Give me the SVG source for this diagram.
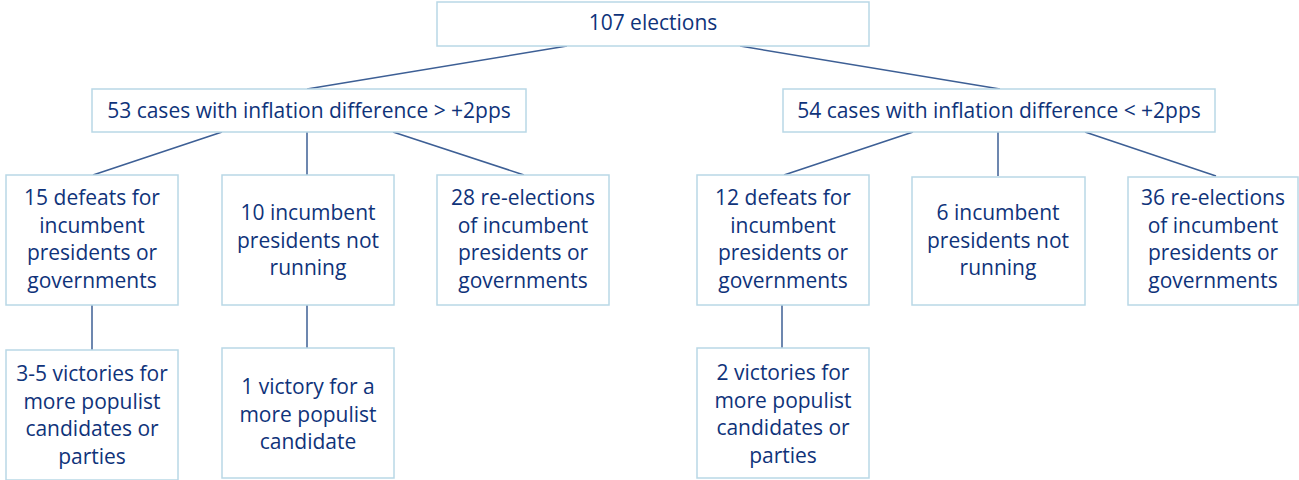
<svg xmlns="http://www.w3.org/2000/svg" width="1299" height="480" viewBox="0 0 1299 480">
  <style>
    .box { fill: #ffffff; stroke: #b9d8e6; stroke-width: 1.5; }
    .lbl { font-family: "Open Sans", "Liberation Sans", sans-serif; font-size: 21px; fill: #0f337a; text-anchor: middle; }
    .edge { stroke: #3d5f95; stroke-width: 1.5; fill: none; }
  </style>
  <rect width="1299" height="480" fill="#ffffff"/>

  <g id="connectors">
    <line class="edge" x1="567" y1="46" x2="307" y2="89"/>
    <line class="edge" x1="740" y1="46" x2="1000" y2="89"/>
    <line class="edge" x1="222" y1="132" x2="93" y2="175"/>
    <line class="edge" x1="307" y1="132" x2="307" y2="175"/>
    <line class="edge" x1="393" y1="132" x2="524" y2="175"/>
    <line class="edge" x1="913" y1="132" x2="784" y2="175"/>
    <line class="edge" x1="998" y1="132" x2="998" y2="176"/>
    <line class="edge" x1="1085" y1="132" x2="1216" y2="176"/>
    <line class="edge" x1="92" y1="305" x2="92" y2="350"/>
    <line class="edge" x1="307" y1="305" x2="307" y2="348"/>
    <line class="edge" x1="782" y1="305" x2="782" y2="348"/>
  </g>

  <g id="n-total">
    <rect class="box" x="437" y="2" width="432" height="44"/>
    <text class="lbl" x="653" y="30">107 elections</text>
  </g>

  <g id="n-high">
    <rect class="box" x="92" y="89" width="434" height="43"/>
    <text class="lbl" x="309" y="118">53 cases with inflation difference &gt; +2pps</text>
  </g>

  <g id="n-low">
    <rect class="box" x="783" y="89" width="432" height="43"/>
    <text class="lbl" x="999" y="118">54 cases with inflation difference &lt; +2pps</text>
  </g>

  <g id="n-high-defeats">
    <rect class="box" x="6" y="175" width="172" height="130"/>
    <text class="lbl" x="92" y="205">15 defeats for<tspan x="92" dy="27.5">incumbent</tspan><tspan x="92" dy="27.5">presidents or</tspan><tspan x="92" dy="27.5">governments</tspan></text>
  </g>

  <g id="n-high-notrunning">
    <rect class="box" x="222" y="175" width="172" height="130"/>
    <text class="lbl" x="308" y="220">10 incumbent<tspan x="308" dy="27.5">presidents not</tspan><tspan x="308" dy="27.5">running</tspan></text>
  </g>

  <g id="n-high-reelected">
    <rect class="box" x="437" y="175" width="172" height="130"/>
    <text class="lbl" x="523" y="205">28 re-elections<tspan x="523" dy="27.5">of incumbent</tspan><tspan x="523" dy="27.5">presidents or</tspan><tspan x="523" dy="27.5">governments</tspan></text>
  </g>

  <g id="n-low-defeats">
    <rect class="box" x="697" y="175" width="172" height="130"/>
    <text class="lbl" x="783" y="205">12 defeats for<tspan x="783" dy="27.5">incumbent</tspan><tspan x="783" dy="27.5">presidents or</tspan><tspan x="783" dy="27.5">governments</tspan></text>
  </g>

  <g id="n-low-notrunning">
    <rect class="box" x="912" y="177" width="173" height="128"/>
    <text class="lbl" x="998" y="220">6 incumbent<tspan x="998" dy="27.5">presidents not</tspan><tspan x="998" dy="27.5">running</tspan></text>
  </g>

  <g id="n-low-reelected">
    <rect class="box" x="1128" y="177" width="170" height="128"/>
    <text class="lbl" x="1213" y="205">36 re-elections<tspan x="1213" dy="27.5">of incumbent</tspan><tspan x="1213" dy="27.5">presidents or</tspan><tspan x="1213" dy="27.5">governments</tspan></text>
  </g>

  <g id="n-high-populist">
    <rect class="box" x="6" y="350" width="172" height="130"/>
    <text class="lbl" x="92" y="381">3-5 victories for<tspan x="92" dy="27.5">more populist</tspan><tspan x="92" dy="27.5">candidates or</tspan><tspan x="92" dy="27.5">parties</tspan></text>
  </g>

  <g id="n-high-populist1">
    <rect class="box" x="222" y="348" width="172" height="130"/>
    <text class="lbl" x="308" y="394">1 victory for a<tspan x="308" dy="27.5">more populist</tspan><tspan x="308" dy="27.5">candidate</tspan></text>
  </g>

  <g id="n-low-populist">
    <rect class="box" x="697" y="348" width="172" height="130"/>
    <text class="lbl" x="783" y="380">2 victories for<tspan x="783" dy="27.5">more populist</tspan><tspan x="783" dy="27.5">candidates or</tspan><tspan x="783" dy="27.5">parties</tspan></text>
  </g>
</svg>
